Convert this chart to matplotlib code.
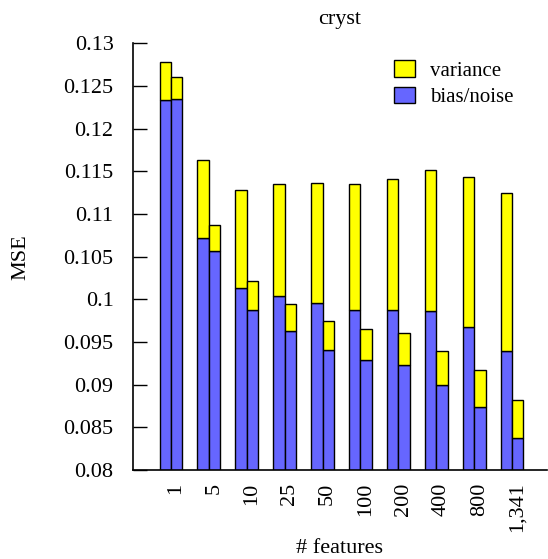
import matplotlib
matplotlib.use('Agg')
import matplotlib.pyplot as plt
import matplotlib.transforms as mtransforms
import numpy as np

plt.rcParams['font.family'] = ['Liberation Serif', 'DejaVu Serif']

features = ['1', '5', '10', '25', '50', '100', '200', '400', '800', '1,341']

# first bar of each pair
bias_a = [0.1234, 0.1072, 0.1013, 0.1004, 0.0996, 0.0987, 0.0987, 0.0986, 0.0967, 0.0939]
var_a = [0.0044, 0.0091, 0.0115, 0.0131, 0.0140, 0.0148, 0.0154, 0.0165, 0.0176, 0.0185]
# second bar of each pair
bias_b = [0.1235, 0.1057, 0.0988, 0.0963, 0.0941, 0.0929, 0.0923, 0.0900, 0.0874, 0.0838]
var_b = [0.0025, 0.0030, 0.0034, 0.0032, 0.0034, 0.0036, 0.0037, 0.0040, 0.0043, 0.0044]

YELLOW = '#ffff00'
BLUE = '#6666ff'
FS = 16

fig = plt.figure(figsize=(5.48, 5.59), dpi=100)
ax = fig.add_axes([133 / 548, 1 - 470 / 559, (547 - 133) / 548, (470 - 43.3) / 559])

x = np.arange(len(features))
w = 0.3
for off, bias, var in [(-w / 2, bias_a, var_a), (w / 2, bias_b, var_b)]:
    ax.bar(x + off, bias, w, color=BLUE, edgecolor='black', linewidth=1.0,
           label='bias/noise' if off < 0 else None)
    ax.bar(x + off, var, w, bottom=bias, color=YELLOW, edgecolor='black', linewidth=1.0,
           label='variance' if off < 0 else None)

ax.set_xlim(-1.0, 9.92)
ax.set_ylim(0.08, 0.13)
ax.set_yticks(np.arange(0.08, 0.1301, 0.005))
ax.set_yticklabels(['%g' % round(v, 3) for v in np.arange(0.08, 0.1301, 0.005)])
ax.tick_params(axis='y', direction='in', length=10, width=1, pad=14, labelsize=FS)
ax.set_xticks(x)
ax.set_xticklabels(features, rotation=90, fontsize=FS)
ax.tick_params(axis='x', length=0, pad=9)
shift = mtransforms.ScaledTranslation(5 / 100, 0, fig.dpi_scale_trans)
for lab in ax.get_xticklabels():
    lab.set_transform(lab.get_transform() + shift)

ax.spines['top'].set_visible(False)
ax.spines['right'].set_visible(False)
ax.spines['left'].set_linewidth(1.2)
ax.spines['bottom'].set_linewidth(1.2)

ax.set_title('cryst', fontsize=FS, pad=14)
ax.set_ylabel('MSE', fontsize=FS, labelpad=24)
ax.set_xlabel('# features', fontsize=FS, labelpad=5)

handles, labels = ax.get_legend_handles_labels()
order = [labels.index('variance'), labels.index('bias/noise')]
ax.legend([handles[i] for i in order], [labels[i] for i in order],
          loc='upper left', bbox_to_anchor=(394 / 548, 1 - 60 / 559),
          bbox_transform=fig.transFigure, frameon=False, fontsize=15,
          handlelength=1.0, handleheight=0.85, handletextpad=0.75,
          labelspacing=0.3, borderpad=0, borderaxespad=0)

fig.savefig('out.png', dpi=100)
